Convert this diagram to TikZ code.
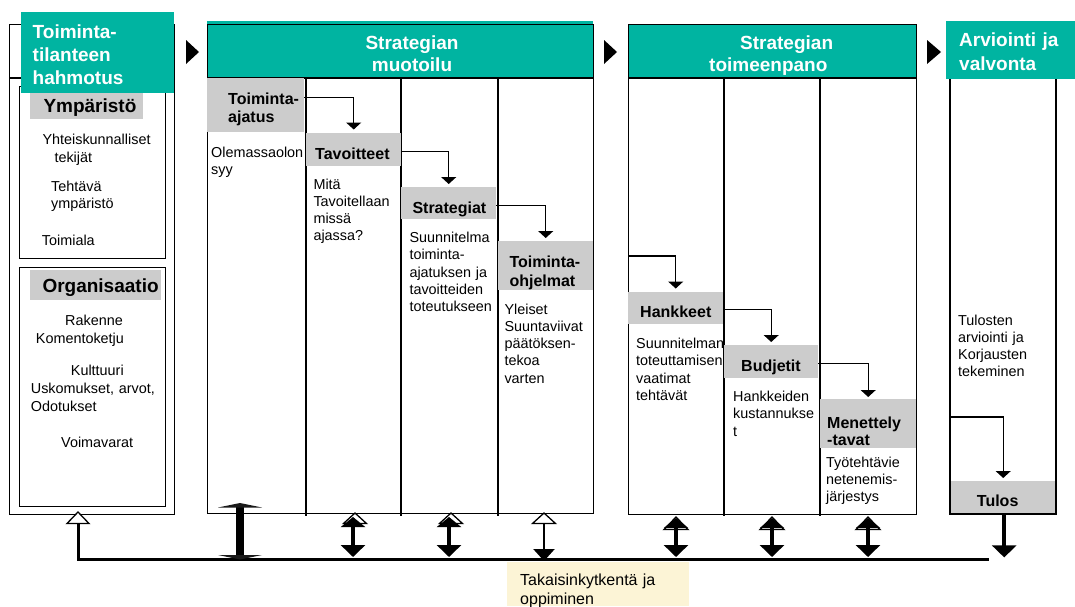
\documentclass[tikz,border=0pt]{standalone}
\usepackage{fontspec}
\setmainfont{Liberation Sans}
\usetikzlibrary{calc,arrows.meta}
\definecolor{bandteal}{RGB}{0,180,161}
\definecolor{hdrgray}{RGB}{204,204,204}
\definecolor{notey}{RGB}{252,244,214}
\begin{document}
\begin{tikzpicture}[x=1pt,y=-1pt,
  frame/.style={draw=black,line width=1.2pt,inner sep=0pt,anchor=north west},
  band/.style={fill=bandteal,draw=none,inner sep=0pt,anchor=north west},
  hdrbox/.style={fill=hdrgray,draw=none,inner sep=0pt,anchor=north west},
  body/.style={font=\fontsize{14.4}{17.2}\selectfont,inner sep=0pt,anchor=base west,text width=140pt,align=left},
  hdrtxt/.style={font=\bfseries\fontsize{16}{18.3}\selectfont,inner sep=0pt,anchor=base west,text width=100pt,align=left},
  bigtxt/.style={font=\bfseries\fontsize{19}{23}\selectfont,inner sep=0pt,anchor=base west,text width=140pt,align=left},
  ttl/.style={font=\bfseries\fontsize{19}{22}\selectfont,text=white,inner sep=0pt,text width=170pt},
  flow/.style={line width=1.2pt,-{Triangle[width=15pt,length=7pt]}},
  hollow/.style={fill=white,draw=black,line width=1.3pt,line join=miter},
  dbl/.style={line width=3.5pt,{Triangle[width=24pt,length=10pt]}-{Triangle[width=24pt,length=12pt]}},
  down/.style={line width=3pt,-{Triangle[width=21pt,length=12pt]}},
  phase/.style={fill=black}
]
\useasboundingbox (0,0) rectangle (1075,606);

% ---------- Phase 1: Toimintatilanteen hahmotus ----------
\node[frame,minimum width=165,minimum height=490] (sit) at (9,24) {};
\draw[line width=1.2pt] (9,78) -- (21,78);
\node[frame,minimum width=146,minimum height=172] (env) at (19,86) {};
\node[frame,minimum width=146,minimum height=239] (org) at (19,267) {};
\node[band,minimum width=153,minimum height=81] (sitband) at (21,12) {};
\node[ttl,font=\bfseries\fontsize{19}{23}\selectfont,anchor=base west,align=left] at (32.5,38.5) {Toiminta-\\tilanteen\\hahmotus};
\node[hdrbox,minimum width=113,minimum height=26] (envh) at (30,93) {};
\node[hdrbox,minimum width=131,minimum height=30] (orgh) at (30,270) {};
\node[bigtxt] at (43.3,112) {Ympäristö};
\node[bigtxt] at (42.3,292) {Organisaatio};
\node[body] at (42.3,144) {Yhteiskunnalliset};
\node[body] at (54.3,162.3) {tekijät};
\node[body] at (51,191) {Tehtävä};
\node[body] at (51,208) {ympäristö};
\node[body] at (41.7,245.5) {Toimiala};
\node[body] at (65,325) {Rakenne};
\node[body] at (35.7,343) {Komentoketju};
\node[body] at (70.7,375.5) {Kulttuuri};
\node[body] at (30.7,393) {Uskomukset, arvot,};
\node[body] at (30.7,411.5) {Odotukset};
\node[body] at (61,447) {Voimavarat};

% ---------- phase arrows ----------
\fill[phase] (186,40) -- (199,52) -- (186,64) -- cycle;
\fill[phase] (604,40) -- (617,52) -- (604,64) -- cycle;
\fill[phase] (927,40) -- (941,52) -- (927,64) -- cycle;

% ---------- Phase 2: Strategian muotoilu ----------
\node[band,minimum width=386,minimum height=57] (formband) at (207,21) {};
\node[frame,minimum width=386,minimum height=489] (form) at (207,24) {};
\draw[line width=1.2pt] (207,78) -- (593,78);
\foreach \cx in {306,401,498} \draw[line width=1.2pt] (\cx,78) -- (\cx,516);
\node[ttl,anchor=base,align=center] at (412,49) {Strategian\\muotoilu};

\node[hdrbox,minimum width=97,minimum height=54] (ajatus) at (207,78) {};
\node[hdrbox,minimum width=95,minimum height=33] (tavoit) at (306,133) {};
\node[hdrbox,minimum width=95,minimum height=32] (strat) at (401,187) {};
\node[hdrbox,minimum width=95,minimum height=49] (ohjel) at (498,241) {};
\node[hdrtxt] at (228,104.3) {Toiminta-\\ajatus};
\node[hdrtxt] at (315,159.3) {Tavoitteet};
\node[hdrtxt] at (412.3,213.3) {Strategiat};
\node[hdrtxt] at (509.3,267.7) {Toiminta-\\ohjelmat};
\node[body] at (211,157) {Olemassaolon\\syy};
\node[body] at (313.3,189.3) {Mitä\\Tavoitellaan\\missä\\ajassa?};
\node[body] at (409.3,242.7) {Suunnitelma\\toiminta-\\ajatuksen ja\\tavoitteiden\\toteutukseen};
\node[body] at (504.3,314.3) {Yleiset\\Suuntaviivat\\päätöksen-\\tekoa\\varten};

\draw[flow] ([yshift=8pt]ajatus.east) -| ([yshift=3.5pt]tavoit.north);
\draw[flow] ([yshift=-1.5pt]tavoit.east) -| ([yshift=3pt]strat.north);
\draw[flow] ([yshift=-2pt]strat.east) -| ([yshift=3pt]ohjel.north);

% ---------- Phase 3: Strategian toimeenpano ----------
\node[band,minimum width=288,minimum height=54] (implband) at (628,24) {};
\node[frame,minimum width=288,minimum height=490] (impl) at (628,24) {};
\draw[line width=1.2pt] (628,78) -- (916,78);
\foreach \cx in {724,820} \draw[line width=1.2pt] (\cx,78) -- (\cx,516);
\node[ttl,anchor=base west,align=left] at (709,49) {\hspace*{31pt}Strategian\\toimeenpano};

\node[hdrbox,minimum width=95,minimum height=32] (hank) at (628,292) {};
\node[hdrbox,minimum width=94,minimum height=33] (budj) at (724,345) {};
\node[hdrbox,minimum width=96,minimum height=49] (menet) at (820,399) {};
\node[hdrtxt] at (640,317.7) {Hankkeet};
\node[hdrtxt] at (741,371) {Budjetit};
\node[hdrtxt,font=\bfseries\fontsize{16}{17.4}\selectfont] at (827,428.3) {Menettely\\-tavat};
\node[body] at (636,348.7) {Suunnitelman\\toteuttamisen\\vaatimat\\tehtävät};
\node[body] at (733,401.7) {Hankkeiden\\kustannukse\\t};
\node[body] at (826,467.3) {Työtehtävie\\netenemis-\\järjestys};

\coordinate (implin) at ($(impl.north west)+(0,232)$);
\draw[flow] (implin) -| ([yshift=3.5pt]hank.north);
\draw[flow] ([yshift=-1pt]hank.east) -| ([yshift=3pt]budj.north);
\draw[flow] ([yshift=-1.5pt]budj.east) -| ([yshift=2pt]menet.north);

% ---------- Phase 4: Arviointi ja valvonta ----------
\node[band,minimum width=129,minimum height=58] (evalband) at (946,21) {};
\node[ttl,font=\bfseries\fontsize{19}{24}\selectfont,anchor=base west,align=left] at (959,46) {Arviointi ja\\valvonta};
\node[hdrbox,minimum width=106,minimum height=33] (tulos) at (950,481) {};
\draw[line width=1.2pt] (950,79) -- (950,514) -- (1056,514) -- (1056,79);
\node[hdrtxt] at (976.7,506.7) {Tulos};
\node[body] at (958,325) {Tulosten\\arviointi ja\\Korjausten\\tekeminen};
\coordinate (evalin) at (950,417);
\draw[flow] (evalin) -| ([yshift=3pt]tulos.north);

% ---------- feedback loop ----------
\coordinate (fbL) at (78,559);
\coordinate (fbR) at (989,559);
\coordinate (fb1) at (353,559);
\coordinate (fb2) at (449,559);
\coordinate (fb3) at (544,559);
\coordinate (fb4) at (676,559);
\coordinate (fb5) at (772,559);
\coordinate (fb6) at (868,559);

\draw[line width=3pt] (78,523) -- (fbL) -- (fbR);
\filldraw[hollow] (78,512) -- ++(11,11.5) -- ++(-22,0) -- cycle;

% bar under the first column
\fill (236,505) rectangle (244,557);
\fill[black!90] (218,507.5) -- (240,503) -- (262,507.5) -- cycle;
\fill[black!90] (218,555) -- (240,559.5) -- (262,555) -- cycle;

% two-way links of the formulation phase
\filldraw[hollow] (355,513) -- ++(11.5,10.5) -- ++(-23,0) -- cycle;
\filldraw[hollow] (451,513) -- ++(11.5,10.5) -- ++(-23,0) -- cycle;
\draw[dbl] ($(fb1)+(0,-42)$) -- ($(fb1)+(0,-2)$);
\draw[dbl] ($(fb2)+(0,-42)$) -- ($(fb2)+(0,-2)$);
\filldraw[hollow] (544,513) -- ++(11.5,10.5) -- ++(-23,0) -- cycle;
\draw[line width=2.5pt,-{Triangle[width=21pt,length=12pt]}] ($(fb3)+(0,-35)$) -- ($(fb3)+(0,2)$);

% two-way links of the implementation phase
\foreach \p in {fb4,fb5,fb6}{
  \filldraw[hollow] ($(\p)+(0,-42)$) -- ++(12,12.5) -- ++(-24,0) -- cycle;
  \draw[dbl] ($(\p)+(0,-41)$) -- ($(\p)+(0,-2)$);
}

% result arrow
\draw[line width=4pt,-{Triangle[width=24pt,length=12pt]}] (tulos.south) ++(1,0) -- ++(0,43);

% feedback label
\node[fill=notey,inner sep=0pt,anchor=north west,minimum width=182,minimum height=44] (learn) at (507,562) {};
\node[body,font=\fontsize{16}{19}\selectfont] at (520,585) {Takaisinkytkentä ja\\oppiminen};
\end{tikzpicture}
\end{document}
